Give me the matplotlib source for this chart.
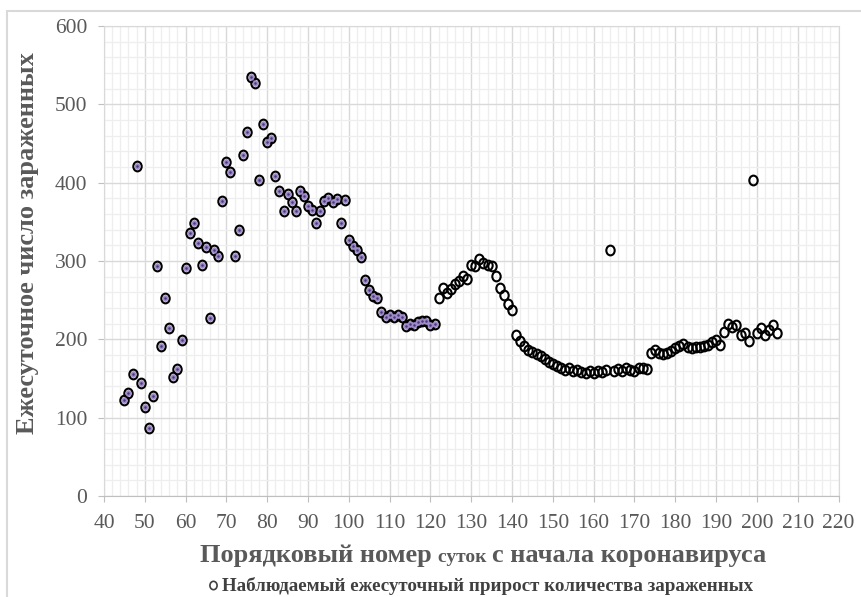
import matplotlib
matplotlib.use('Agg')
import matplotlib.pyplot as plt
from matplotlib.path import Path
from matplotlib.lines import Line2D
from matplotlib.patches import Rectangle
from matplotlib.ticker import MultipleLocator

# daily new cases, days 45..121 (highlighted part) and 122..205
days_early = list(range(45, 122))
cases_early = [122, 131, 156, 421, 144, 114, 87, 128, 294, 192,
               253, 215, 152, 162, 199, 291, 336, 349, 323, 295,
               318, 227, 314, 307, 376, 426, 413, 307, 339, 435,
               465, 535, 527, 403, 475, 452, 457, 408, 389, 364,
               385, 375, 364, 389, 383, 370, 365, 349, 364, 376,
               381, 375, 379, 348, 378, 327, 319, 314, 305, 276,
               263, 255, 253, 235, 229, 231, 229, 231, 229, 217,
               220, 218, 222, 224, 223, 218, 219]
days_late = list(range(122, 206))
cases_late = [253, 265, 259, 264, 271, 274, 281, 277, 295, 293,
              303, 298, 295, 293, 281, 265, 257, 245, 238, 205,
              198, 191, 187, 184, 181, 179, 175, 171, 168, 166,
              164, 161, 163, 160, 161, 158, 157, 159, 157, 160,
              158, 161, 314, 160, 162, 160, 163, 161, 159, 163,
              164, 162, 182, 186, 183, 181, 182, 185, 189, 192,
              194, 190, 189, 190, 190, 192, 193, 196, 199, 193,
              210, 219, 216, 218, 205, 208, 198, 404, 208, 214,
              205, 212, 218, 208]

x_ticks = list(range(40, 221, 10))
y_ticks = list(range(0, 601, 100))
x_title = [('Порядковый номер ', 19), ('суток ', 14), ('с начала коронавируса', 19)]
y_title = 'Ежесуточное число зараженных'
legend_label = 'Наблюдаемый ежесуточный прирост количества зараженных'

grey = '#595959'
font = 'Liberation Serif'
plt.rcParams['font.family'] = font

# slightly narrow circle, the original picture is squeezed sideways
circ = Path.unit_circle()
ring = Path(circ.vertices * [0.86, 1.0], circ.codes)

fig = plt.figure(figsize=(8.61, 5.97), dpi=100)
fig.add_artist(Rectangle((7 / 861, -0.1), 1.2, 1 - 11 / 597 + 0.1, transform=fig.transFigure,
                         fill=False, edgecolor='#d9d9d9', lw=1.5))
ax = fig.add_axes([104 / 861, 1 - 496 / 597, (838.5 - 104) / 861, (496 - 26) / 597])

ax.plot(days_early + days_late, cases_early + cases_late, ls='none', marker=ring,
        ms=7.0, mfc='none', mec='black', mew=1.5, zorder=3, clip_on=False)
ax.plot(days_early, cases_early, ls='none', marker=ring, ms=4.8,
        mfc='#9e89c9', mec='none', zorder=4, clip_on=False)
ax.plot(days_early, cases_early, ls='none', marker='o', ms=1.8,
        mfc='#4a3a78', mec='none', zorder=5, clip_on=False)

ax.set_xlim(40, 220)
ax.set_ylim(0, 600)
ax.set_xticks(x_ticks)
ax.set_yticks(y_ticks)
ax.xaxis.set_minor_locator(MultipleLocator(2))
ax.yaxis.set_minor_locator(MultipleLocator(20))
ax.grid(which='major', color='#d9d9d9', lw=1.0)
ax.grid(which='minor', color='#eeeeee', lw=0.9)
ax.set_axisbelow(True)
for s in ax.spines.values():
    s.set_color('#d9d9d9')
ax.spines['bottom'].set_color('#bfbfbf')
ax.tick_params(which='major', length=4, color='#bfbfbf', labelcolor=grey, labelsize=15.5)
ax.tick_params(axis='x', pad=9)
ax.tick_params(axis='y', pad=8)
ax.tick_params(which='minor', length=0)

fig.text(28 / 861, 1 - 243 / 597, y_title, rotation=90, ha='center', va='center',
         fontsize=19, fontweight='bold', color=grey)

# x title with mixed sizes, placed piece by piece on one baseline
fig.canvas.draw()
r = fig.canvas.get_renderer()
parts = []
for txt, size in x_title:
    t = fig.text(0, 1 - 562 / 597, txt, fontsize=size, fontweight='bold', color=grey, va='baseline')
    parts.append(t)
widths = [t.get_window_extent(r).width for t in parts]
x0 = 483 - sum(widths) / 2
for t, w in zip(parts, widths):
    t.set_x(x0 / 861)
    x0 += w

fig.text(222 / 861, 1 - 586 / 597, legend_label, fontsize=13.7, fontweight='bold',
         color='#404040', ha='left', va='center')
fig.add_artist(Line2D([213 / 861], [1 - 585 / 597], transform=fig.transFigure, ls='none',
                      marker=ring, ms=6, mfc='none', mec='#404040', mew=1.2))

fig.savefig('out.png', dpi=100)
